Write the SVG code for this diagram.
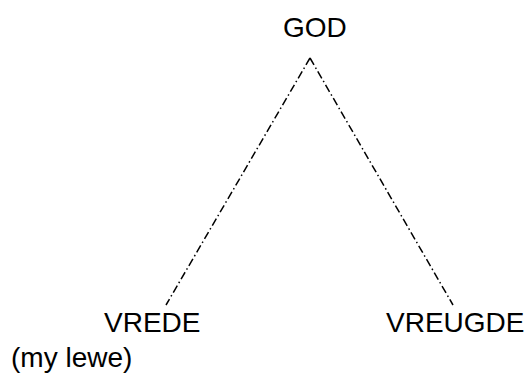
<svg xmlns="http://www.w3.org/2000/svg" width="528" height="376" viewBox="0 0 528 376">
<style>
.t{font-family:"Liberation Sans",Arial,sans-serif;font-size:28px;fill:#000}
.c{stroke:#000;stroke-width:1.5;fill:none;stroke-dasharray:8 3 1.5 3}
</style>
<rect width="528" height="376" fill="#fff"/>
<g id="connectors">
<line class="c" x1="310" y1="58" x2="166" y2="305"/>
<line class="c" x1="310" y1="58" x2="453" y2="305"/>
</g>
<g id="god"><text class="t" x="283" y="37">GOD</text></g>
<g id="vrede"><text class="t" x="104" y="332">VREDE</text></g>
<g id="vreugde"><text class="t" x="386" y="332">VREUGDE</text></g>
<g id="mylewe"><text class="t" x="11" y="367">(my lewe)</text></g>
</svg>
